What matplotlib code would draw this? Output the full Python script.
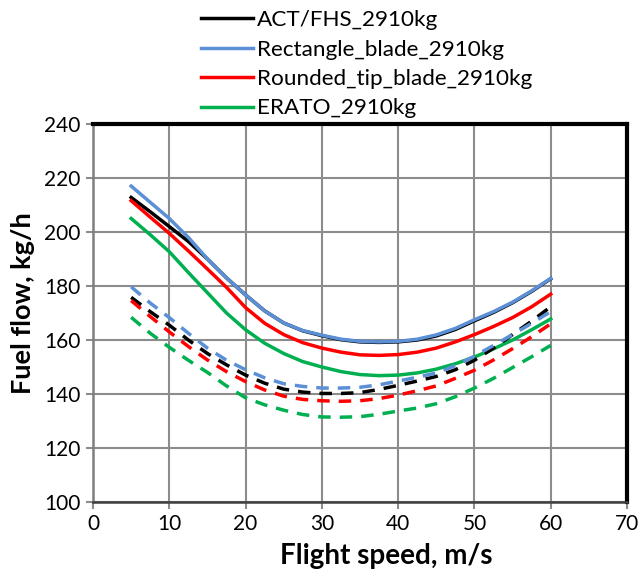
import numpy as np
import matplotlib.pyplot as plt

plt.rcParams['font.family'] = ['Lato', 'DejaVu Sans']

speed = [5, 7.5, 10, 12.5, 15, 17.5, 20, 22.5, 25, 27.5, 30, 32.5,
         35, 37.5, 40, 42.5, 45, 47.5, 50, 52.5, 55, 57.5, 60]

# solid curves
act = [212.8, 207.5, 202, 196.5, 190, 183, 176.7, 170.8, 166.3, 163.4, 161.6, 160.1,
       159.3, 159.1, 159.3, 160, 161.5, 163.9, 167.1, 170.2, 173.8, 178, 182.7]
rect = [217, 211, 205, 198, 190, 183, 176.7, 170.8, 166.3, 163.5, 161.8, 160.3,
        159.5, 159.3, 159.5, 160.3, 161.9, 164.3, 167.5, 170.5, 174, 178.2, 182.8]
rounded = [211.6, 205.5, 199.5, 193, 186.3, 179.5, 172, 166.2, 162, 159, 157, 155.5,
           154.5, 154.3, 154.6, 155.5, 157, 159.3, 162, 165, 168.3, 172.3, 177]
erato = [205, 199, 192.7, 185, 177.5, 170, 163.8, 158.8, 155, 152, 150, 148.3,
         147.2, 146.8, 147, 147.8, 149.2, 151.2, 153.7, 156.7, 160, 163.8, 167.8]

# dashed curves
act_d = [175.8, 170.5, 165.5, 160, 155, 150.8, 147, 144, 141.8, 140.7, 140.2, 140.2,
         140.5, 141.7, 143.2, 144.8, 146.5, 149, 152.5, 157, 162, 167, 172.3]
rect_d = [179.7, 173.7, 168.3, 162.5, 157, 152.5, 149, 146, 143.8, 142.8, 142.2, 142.2,
          142.5, 143.4, 144.8, 146.2, 147.8, 150.5, 154, 158, 162, 166.2, 170.5]
rounded_d = [174.6, 168.7, 163, 157.6, 152.6, 148.3, 144.6, 141.5, 139.2, 138, 137.5, 137.3,
             137.5, 138.3, 139.6, 141.2, 143, 145.8, 148.8, 152.6, 156.8, 161.2, 166]
erato_d = [168.4, 162.5, 157.3, 152.5, 148, 143, 138.6, 136, 134, 132.4, 131.5, 131.4,
           131.6, 132.5, 133.7, 134.8, 136.4, 139, 142.2, 145.8, 149.8, 153.8, 158]

labels = ['ACT/FHS_2910kg', 'Rectangle_blade_2910kg',
          'Rounded_tip_blade_2910kg', 'ERATO_2910kg']
colors = ['black', '#5B8FD6', '#FF0000', '#00B050']

fig = plt.figure(figsize=(6.42, 5.75), dpi=100)
ax = fig.add_axes([93/642, 1 - 502/575, (627 - 93)/642, (502 - 124)/575])

solid = [act, rect, rounded, erato]
dashed = [act_d, rect_d, rounded_d, erato_d]
lines = []
for i in range(4):
    ln, = ax.plot(speed, solid[i], color=colors[i], lw=2.5, label=labels[i])
    lines.append(ln)
for i in range(4):
    ax.plot(speed, dashed[i], color=colors[i], lw=2.5, dashes=(3.6, 2.6))

ax.set_xlim(0, 70)
ax.set_ylim(100, 240)
ax.set_xticks(range(0, 71, 10))
ax.set_yticks(range(100, 241, 20))
ax.grid(True, color='#8C8C8C', lw=1.5)
ax.set_axisbelow(True)
ax.tick_params(direction='out', length=5, color='#8C8C8C', width=1.5,
               labelsize=15, pad=4)

ax.spines['left'].set_color('#7F7F7F')
ax.spines['left'].set_linewidth(1.8)
ax.spines['bottom'].set_color('#404040')
ax.spines['bottom'].set_linewidth(1.8)
ax.spines['top'].set_color('black')
ax.spines['top'].set_linewidth(3)
ax.spines['right'].set_color('black')
ax.spines['right'].set_linewidth(3)

# axis titles, placed like the original (x title sits right of centre)
fig.text(386/642, 1 - 556/575, 'Flight speed, m/s', fontsize=20,
         fontweight='bold', ha='center', va='center')
fig.text(23/642, 1 - 303/575, 'Fuel flow, kg/h', fontsize=19.5,
         fontweight='bold', ha='center', va='center', rotation=90)

fig.legend(handles=lines, loc='upper left', bbox_to_anchor=(192/642, 0.998),
           frameon=False, fontsize=16.2, handlelength=2.3, handletextpad=0.2,
           labelspacing=0.42, borderaxespad=0)

fig.savefig('out.png', dpi=100)
